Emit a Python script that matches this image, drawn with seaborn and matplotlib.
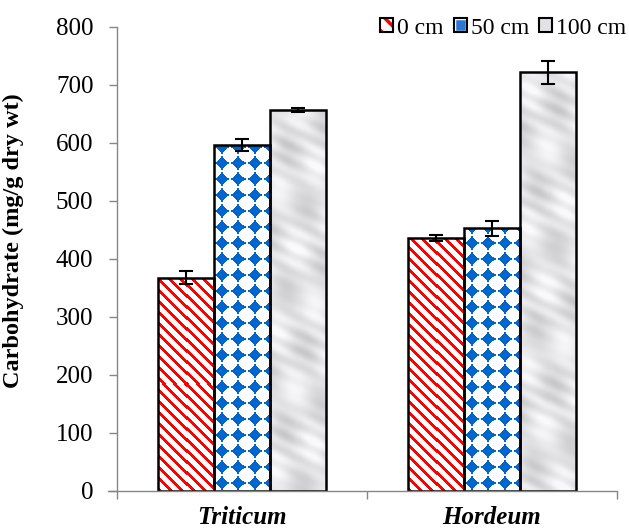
import numpy as np
import pandas as pd
import matplotlib
matplotlib.use("Agg")
import matplotlib.pyplot as plt
import seaborn as sns
from matplotlib.patches import Patch
from matplotlib.legend_handler import HandlerTuple

# values
species = ["Triticum", "Hordeum"]
depths = ["0 cm", "50 cm", "100 cm"]
carb_0 = [368, 436]
carb_50 = [596, 453]
carb_100 = [657, 722]
err_0 = [11, 5]
err_50 = [10, 13]
err_100 = [3, 20]

rows = []
for d, vals, errs in zip(depths, [carb_0, carb_50, carb_100], [err_0, err_50, err_100]):
    for s, v, e in zip(species, vals, errs):
        rows.append({"Species": s, "Depth": d, "Carb": v, "Err": e})
df = pd.DataFrame(rows)

sns.set_style("white")
plt.rcParams["font.family"] = ["Liberation Serif", "DejaVu Serif"]
plt.rcParams["hatch.linewidth"] = 2.5

fig = plt.figure(figsize=(6.29, 5.29), dpi=100)
ax = fig.add_axes([0.186, 0.072, 0.795, 0.877])

sns.barplot(data=df, x="Species", y="Carb", hue="Depth", order=species,
            hue_order=depths, width=0.672, errorbar=None, ax=ax,
            legend=False, saturation=1)

ax.set_xlim(-0.5, 1.5)
ax.set_ylim(0, 800)

PX_X = 0.795 * 629 / 2.0   # pixels per x unit
PX_Y = 0.877 * 529 / 800.0  # pixels per y unit


def stripes(nx, ny):
    xx, yy = np.meshgrid(np.arange(nx), np.arange(ny))
    m = ((xx + yy) % 11) < 4
    img = np.ones((ny, nx, 3))
    img[m] = [1.0, 0.0, 0.0]
    return img


def diamonds(nx, ny):
    xx, yy = np.meshgrid(np.arange(nx), np.arange(ny))
    p = 16
    dx = np.abs((xx % p) - p / 2 + 0.5)
    dy = np.abs((yy % p) - p / 2 + 0.5)
    m = (dx + dy) < 6.5
    m |= ((dx < 1.2) & (dy < 7.5)) | ((dy < 1.2) & (dx < 7.5))
    img = np.ones((ny, nx, 3))
    img[m] = [0.0, 0.4, 0.8]
    return img


def marble(nx, ny, k):
    xx, yy = np.meshgrid(np.arange(nx), np.arange(ny))
    v = (0.04 * np.sin(xx / 7.0 + yy / 23.0 + k)
         + 0.035 * np.sin(yy / 11.0 - xx / 17.0 + 2 * k)
         + 0.04 * np.sin((xx + 2 * yy) / 5.3 + 3 * k) * np.sin(yy / 31.0 + k))
    g = np.clip(0.89 + v, 0.72, 0.98)
    img = np.dstack([g, g, g * 1.01])
    return np.clip(img, 0, 1)


bar_groups = list(ax.containers[:len(depths)])
for i, cont in enumerate(bar_groups):
    for j, bar in enumerate(cont):
        x0, y0 = bar.get_x(), bar.get_y()
        w, h = bar.get_width(), bar.get_height()
        nx = max(int(round(w * PX_X)), 1)
        ny = max(int(round(h * PX_Y)), 1)
        if i == 0:
            img = stripes(nx, ny)
        elif i == 1:
            img = diamonds(nx, ny)
        else:
            img = marble(nx, ny, 1.7 * j)
        im = ax.imshow(img, extent=(x0, x0 + w, y0, y0 + h), origin="lower",
                       aspect="auto", interpolation="nearest", zorder=1.5)
        im.set_clip_path(bar)
        bar.set_facecolor("none")
        bar.set_edgecolor("black")
        bar.set_linewidth(1.8)
        bar.set_zorder(2)
        e = df.loc[(df["Depth"] == depths[i]) & (df["Species"] == species[j]), "Err"].values
        ax.errorbar(x0 + w / 2, h, yerr=e, fmt="none", ecolor="black",
                    elinewidth=1.5, capsize=5, capthick=1.5, zorder=3)

ax.set_xlim(-0.5, 1.5)
ax.set_ylim(0, 800)

for side in ["top", "right"]:
    ax.spines[side].set_visible(False)
for side in ["left", "bottom"]:
    ax.spines[side].set_color("#868686")
    ax.spines[side].set_linewidth(1.0)
ax.spines["bottom"].set_bounds(-0.535, 1.5)
ax.spines["bottom"].set_clip_on(False)

ax.set_yticks(range(0, 801, 100))
ax.tick_params(axis="y", direction="out", length=6, width=1, color="#868686",
               labelsize=18, labelcolor="black", left=True, pad=11)
ax.set_xticks([0, 1])
ax.set_xticklabels(species, fontsize=18, fontweight="bold", fontstyle="italic",
                   color="black")
ax.set_xticks([-0.5, 0.5, 1.5], minor=True)
ax.tick_params(axis="x", which="major", length=0, pad=11)
ax.tick_params(axis="x", which="minor", direction="out", length=6, width=1,
               color="#868686", bottom=True)
ax.set_xlabel("")
ax.set_ylabel("Carbohydrate (mg/g dry wt)", fontsize=17.5, fontweight="bold",
              color="black")
ax.yaxis.set_label_coords(-0.186, 0.539)

# legend swatches: fill layer with a black frame drawn over it
frame = dict(facecolor="none", edgecolor="black", linewidth=1.5)
handles = [
    (Patch(facecolor="white", edgecolor="red", hatch="\\\\", linewidth=0),
     Patch(**frame)),
    (Patch(facecolor="#2a78d2", edgecolor="white", linewidth=2.5),
     Patch(**frame)),
    (Patch(facecolor="#e2e2e4", linewidth=0), Patch(**frame)),
]
leg = fig.legend(handles, depths, loc="center right", ncol=3, frameon=False,
                 fontsize=17, handlelength=0.55, handleheight=0.55,
                 handletextpad=0.17, columnspacing=0.42, borderpad=0,
                 bbox_to_anchor=(0.995, 0.947), borderaxespad=0,
                 handler_map={tuple: HandlerTuple(ndivide=1, pad=0)})
for t in leg.get_texts():
    t.set_color("black")

fig.savefig("out.png", dpi=100)
